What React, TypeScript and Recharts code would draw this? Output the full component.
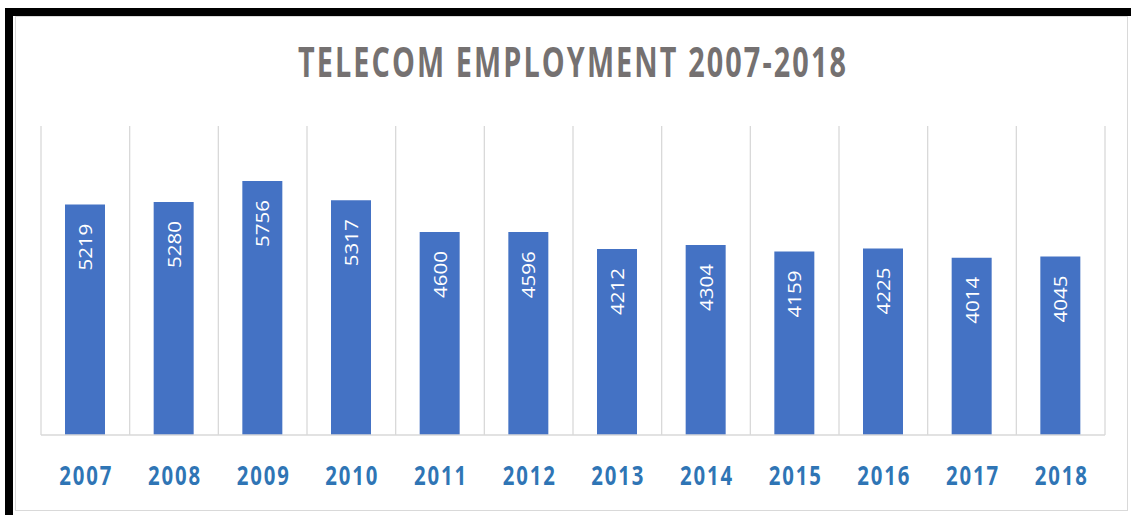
import React from 'react';
import { BarChart, Bar, XAxis, YAxis, CartesianGrid, LabelList } from 'recharts';

const years = ['2007', '2008', '2009', '2010', '2011', '2012', '2013', '2014', '2015', '2016', '2017', '2018'];
const employment = [5219, 5280, 5756, 5317, 4600, 4596, 4212, 4304, 4159, 4225, 4014, 4045];

const data = years.map((year, i) => ({ year, value: employment[i] }));

const W = 1131;
const H = 515;

const YearTick = (props: any) => {
    const { x, y, payload } = props;
    return (
        <text
            x={x + 1}
            y={y + 50}
            textAnchor="middle"
            textLength={54}
            lengthAdjust="spacingAndGlyphs"
            letterSpacing={2.5}
            fill="#2F75B5"
            fontFamily="'Open Sans', sans-serif"
            fontWeight={700}
            fontSize={27}
        >
            {payload.value}
        </text>
    );
};

const ValueLabel = (props: any) => {
    const { x, y, width, value } = props;
    const bx = x + width / 2 + 7;
    const by = y + 19;
    return (
        <text
            x={bx}
            y={by}
            transform={`rotate(-90, ${bx}, ${by})`}
            textAnchor="end"
            textLength={47}
            lengthAdjust="spacingAndGlyphs"
            fill="#ffffff"
            fontFamily="'Open Sans', sans-serif"
            fontSize={19}
        >
            {value}
        </text>
    );
};

const App: React.FC = () => {
    return (
        <div style={{ position: 'absolute', left: 0, top: 0, width: W, height: H, background: '#fff' }}>
            {/* light frame */}
            <div style={{ position: 'absolute', left: 15, top: 16, width: 1113, height: 495, border: '1px solid #d9d9d9', boxSizing: 'border-box' }} />
            {/* black edges */}
            <div style={{ position: 'absolute', left: 5, top: 8, width: W - 5, height: 8, background: '#000' }} />
            <div style={{ position: 'absolute', left: 5, top: 8, width: 8, height: H - 8, background: '#000' }} />

            <svg style={{ position: 'absolute', left: 0, top: 0 }} width={W} height={110}>
                <text
                    x={573}
                    y={77}
                    textAnchor="middle"
                    textLength={550}
                    lengthAdjust="spacingAndGlyphs"
                    letterSpacing={3}
                    fill="#757171"
                    fontFamily="'Open Sans', sans-serif"
                    fontWeight={700}
                    fontSize={41}
                >
                    TELECOM EMPLOYMENT 2007-2018
                </text>
            </svg>

            <div style={{ position: 'absolute', left: 0, top: 0 }}>
                <BarChart width={W} height={H} data={data} margin={{ top: 126, right: 26, bottom: 0, left: 41 }}>
                    <CartesianGrid
                        horizontal={false}
                        stroke="#d9d9d9"
                        strokeWidth={1.3}
                        verticalCoordinatesGenerator={({ offset }: any) =>
                            years.concat('').map((_, i) => offset.left + (i * offset.width) / years.length)
                        }
                    />
                    <XAxis
                        dataKey="year"
                        height={80}
                        axisLine={{ stroke: '#d9d9d9', strokeWidth: 1.5 }}
                        tickLine={false}
                        tickSize={0}
                        tickMargin={0}
                        interval={0}
                        tick={<YearTick />}
                    />
                    <YAxis hide domain={[0, 7000]} />
                    <Bar dataKey="value" fill="#4472C4" barSize={40} isAnimationActive={false}>
                        <LabelList dataKey="value" content={<ValueLabel />} />
                    </Bar>
                </BarChart>
            </div>
        </div>
    );
};

export default App;
